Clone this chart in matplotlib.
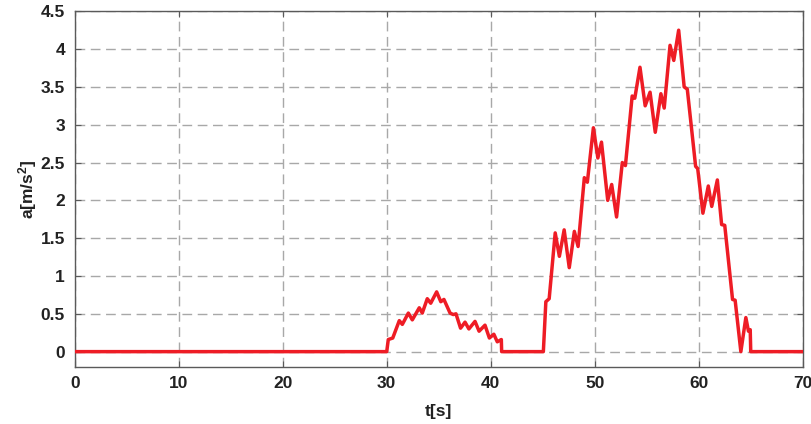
import matplotlib
matplotlib.use("Agg")
import matplotlib.pyplot as plt
from matplotlib.ticker import FuncFormatter

plt.rcParams["font.family"] = ["Liberation Sans", "DejaVu Sans"]
plt.rcParams["mathtext.default"] = "regular"

# Acceleration record: time [s] and acceleration [m/s^2]
t_s = [0.0, 30.0, 30.15, 30.58, 31.21, 31.5, 32.08, 32.46, 33.13, 33.42,
       33.9, 34.23, 34.8, 35.2, 35.5, 36.09, 36.4, 36.66, 37.1, 37.53,
       37.9, 38.49, 38.88, 39.45, 39.87, 40.3, 40.63, 41.02, 41.05,
       45.06, 45.3, 45.62, 46.2, 46.6, 47.06, 47.55, 48.04, 48.4, 49.0,
       49.29, 49.87, 50.3, 50.65, 51.25, 51.63, 52.1, 52.65, 52.95, 53.6,
       53.85, 54.35, 54.85, 55.32, 55.82, 56.36, 56.68, 57.24, 57.6, 58.07,
       58.6, 58.9, 59.7, 59.9, 60.4, 60.92, 61.25, 61.79, 62.2, 62.5,
       63.25, 63.5, 64.05, 64.53, 64.78, 64.95, 65.0, 70.0]
a_ms2 = [0.0, 0.0, 0.16, 0.18, 0.41, 0.36, 0.51, 0.42, 0.58, 0.51,
         0.70, 0.64, 0.79, 0.66, 0.69, 0.51, 0.49, 0.50, 0.31, 0.39,
         0.30, 0.40, 0.27, 0.35, 0.18, 0.23, 0.13, 0.16, 0.0,
         0.0, 0.66, 0.70, 1.57, 1.26, 1.61, 1.11, 1.59, 1.39, 2.30,
         2.24, 2.96, 2.56, 2.77, 2.00, 2.21, 1.78, 2.50, 2.46, 3.38,
         3.35, 3.76, 3.25, 3.43, 2.90, 3.41, 3.22, 4.05, 3.85, 4.25,
         3.50, 3.47, 2.45, 2.42, 1.83, 2.19, 1.92, 2.27, 1.68, 1.67,
         0.69, 0.68, 0.0, 0.45, 0.27, 0.29, 0.0, 0.0]

x_ticks = [0, 10, 20, 30, 40, 50, 60, 70]
y_ticks = [0, 0.5, 1, 1.5, 2, 2.5, 3, 3.5, 4, 4.5]

fig = plt.figure(figsize=(8.12, 4.24), dpi=100)
ax = fig.add_axes([0.092, 0.135, 0.8966, 0.8384])

ax.plot(t_s, a_ms2, color="#EE1C25", lw=2.5, solid_joinstyle="round",
        zorder=3)

ax.set_xlim(0, 70)
ax.set_ylim(-0.2, 4.5)
ax.set_xticks(x_ticks)
ax.set_yticks(y_ticks)
ax.yaxis.set_major_formatter(FuncFormatter(lambda v, p: f"{v:g}"))

ax.grid(True, color="#A8A8A8", linestyle=(0, (7, 4)), linewidth=1.0,
        zorder=0)
for s in ax.spines.values():
    s.set_color("#5A5A5A")
    s.set_linewidth(1.0)

ax.tick_params(direction="in", length=4, width=0.8, color="#5A5A5A",
               labelsize=12.5, labelcolor="#222222", pad=7,
               top=True, right=True)
for lab in ax.get_xticklabels() + ax.get_yticklabels():
    lab.set_fontweight("bold")

ax.set_xlabel("t[s]", fontsize=12.5, fontweight="bold", color="#222222",
              labelpad=9)
ax.set_ylabel("a[m/s$^2$]", fontsize=12.5, fontweight="bold",
              color="#222222", labelpad=1)

fig.savefig("out.png", dpi=100)
